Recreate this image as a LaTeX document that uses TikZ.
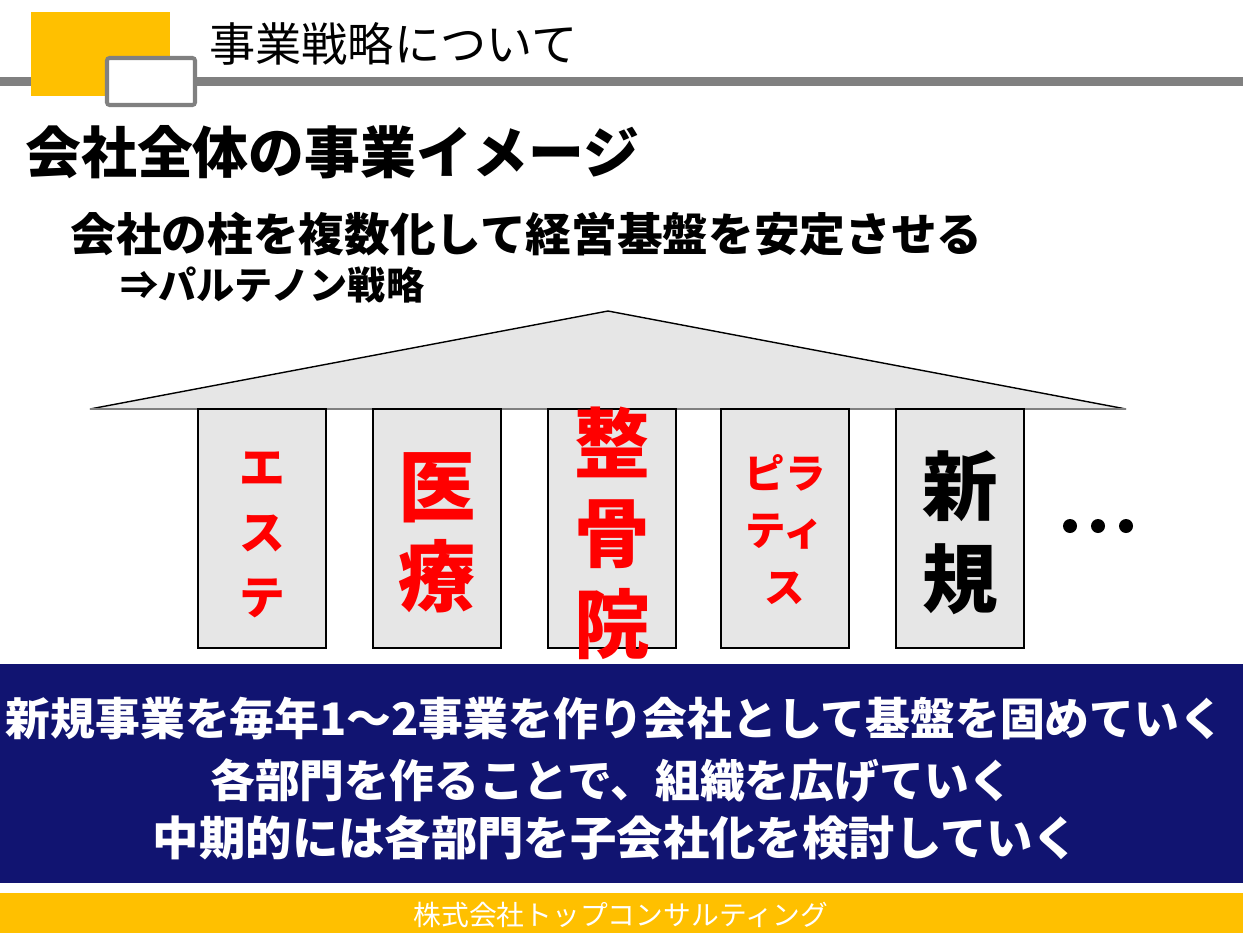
\documentclass[tikz,border=0pt]{standalone}
\usepackage{fontspec}
\setmainfont{Noto Sans CJK JP}
\usetikzlibrary{calc}

\definecolor{hdyellow}{RGB}{255,192,0}
\definecolor{hdgray}{RGB}{128,128,128}
\definecolor{roofgray}{RGB}{230,230,230}
\definecolor{bandnavy}{RGB}{17,20,113}

\newcommand{\fsz}[2]{\fontsize{#1}{#2}\selectfont}

\begin{document}
\begin{tikzpicture}[x=0.02cm, y=-0.02cm,
  pillar/.style={draw=black, fill=roofgray, line width=0.8pt, minimum width=2.56cm, minimum height=4.78cm, inner sep=0pt},
  ptext/.style={align=center, inner sep=0pt},
  bandtext/.style={white, inner sep=0pt, font=\bfseries\fsz{25.5}{30}}
]

\useasboundingbox (0,0) rectangle (1243,933);

% header
\draw[hdgray, line width=5.1pt] (0,81.5) -- (1243,81.5);
\fill[hdyellow] (31,12) rectangle (170,96);
\draw[hdgray, fill=white, line width=2.3pt, rounded corners=1.5pt] (107,58) rectangle (195,105);
\node[anchor=west, inner sep=0pt, font=\fsz{26.3}{30}] (title) at (209,44) {事業戦略について};

\node[anchor=west, inner sep=0pt, font=\bfseries\fsz{31.8}{36}] (head) at (25,152) {会社全体の事業イメージ};
\node[anchor=west, inner sep=0pt, font=\bfseries\fsz{26}{30}] (sub) at (70,234) {会社の柱を複数化して経営基盤を安定させる};
\node[anchor=west, inner sep=0pt, font=\bfseries\fsz{21.7}{26}] (plan) at (120,285) {⇒パルテノン戦略};

% roof
\coordinate (rl) at (90,409);
\coordinate (ra) at (608,311);
\coordinate (rr) at (1126,409);
\filldraw[fill=roofgray, draw=black, line width=0.8pt] (rl) -- (ra) -- (rr) -- cycle;
\draw[hdgray, line width=1.3pt] (rl) -- (rr);

% pillars
\foreach \i/\x in {1/198,2/373,3/548,4/721,5/896} {
  \node[pillar] (p\i) at (\x+64,528.5) {};
}

\node[ptext, red, font=\bfseries\fsz{26}{36.8}] (este) at ([yshift=-0.13cm]p1.center) {エ\\ス\\テ};
\node[ptext, red, font=\bfseries\fsz{44}{51}] (iryo) at ([yshift=-0.09cm]p2.center) {医\\療};
\node[ptext, red, font=\bfseries\fsz{43}{51.5}] (seikotsu) at ([yshift=-0.09cm]p3.center) {整\\骨\\院};
\node[ptext, red, font=\bfseries\fsz{23}{32.5}] (pilates) at ([yshift=-0.02cm]p4.center) {ピラ\\ティ\\ス};
\node[ptext, black, font=\bfseries\fsz{43}{52.7}] (shinki) at ([yshift=-0.08cm]p5.center) {新\\規};

\foreach \x in {1070,1098,1126} {
  \fill (\x,526) circle (0.14cm);
}

% band
\fill[bandnavy] (0,664) rectangle (1243,883);
\node[bandtext] (line1) at (615,718) {新規事業を毎年1～2事業を作り会社として基盤を固めていく};
\node[bandtext] (line2) at (612,780) {各部門を作ることで、組織を広げていく};
\node[bandtext, font=\bfseries\fsz{26.4}{30}] (line3) at (616,838) {中期的には各部門を子会社化を検討していく};

% footer
\fill[hdyellow] (0,893) rectangle (1243,933);
\node[white, inner sep=0pt, font=\fsz{15.8}{18}] (firm) at (621,915) {株式会社トップコンサルティング};

\end{tikzpicture}
\end{document}
